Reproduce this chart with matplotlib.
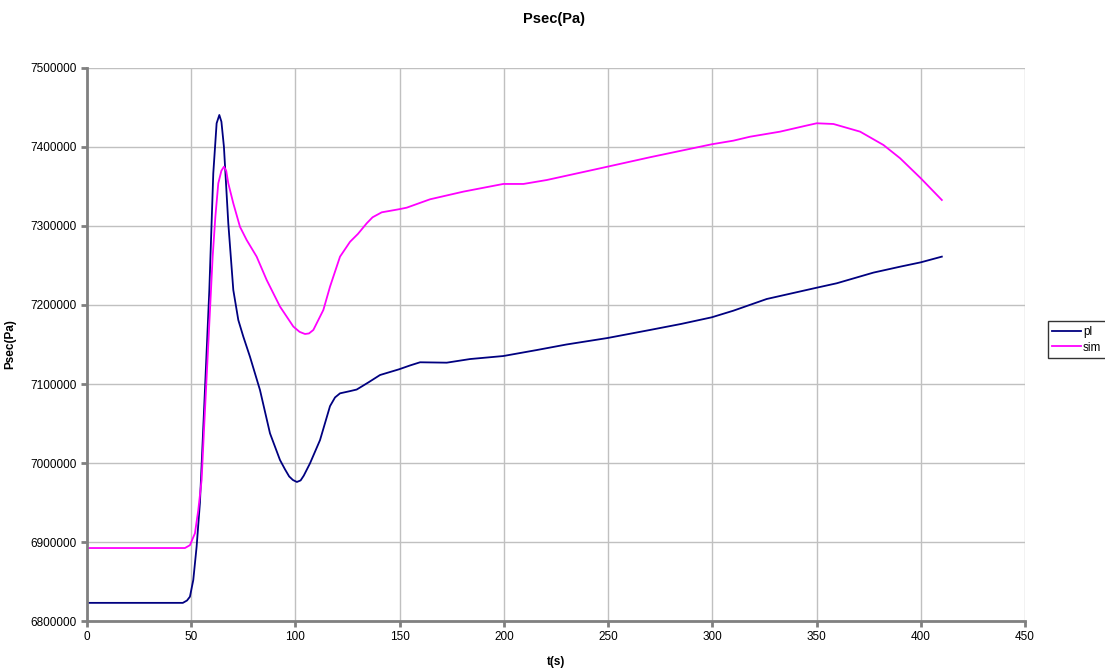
import matplotlib.pyplot as plt
from matplotlib.ticker import MultipleLocator, FuncFormatter

plt.rcParams['font.family'] = ['Liberation Sans', 'DejaVu Sans']

# measured pressure (pl)
t_pl = [0, 46, 48, 49.4, 51, 52.6, 54.2, 56.6, 58.7, 60.6, 62.2, 63.5, 64.5,
        65.7, 67.8, 70.2, 72.6, 75, 78.2, 83, 87.8, 92.6, 95, 97, 98.8,
        100.7, 102.5, 104, 107, 111.8, 116.6, 119, 121.4, 126.2, 129.4, 135,
        140.6, 149.7, 155, 159.8, 172.6, 183.8, 199.7, 215.8, 230, 249.7,
        270.1, 285, 299.7, 310.1, 326.1, 350.1, 359.7, 377.3, 390.1, 400,
        410.1]
p_pl = [6823000, 6823000, 6826000, 6830800, 6851900, 6894000, 6950000,
        7092400, 7219000, 7366700, 7430000, 7440500, 7432000, 7400400,
        7303400, 7219000, 7181000, 7160000, 7134500, 7092400, 7037600,
        7003800, 6992000, 6983000, 6978500, 6976000, 6978000, 6984000,
        6999600, 7029000, 7072000, 7083000, 7088200, 7091000, 7093000,
        7102000, 7111400, 7118600, 7123500, 7127500, 7127000, 7131600,
        7135400, 7143000, 7150000, 7158200, 7168400, 7176000, 7184400,
        7192800, 7207600, 7221900, 7227500, 7241000, 7248500, 7254000,
        7261200]

# simulated pressure (sim)
t_sim = [0, 47, 49.4, 51.8, 53.4, 55, 56.3, 58.7, 60.3, 61.6, 63, 64.5, 65.7,
         66.8, 67.8, 70.2, 73.4, 76.6, 81.4, 86.2, 92.6, 99, 102, 104.6,
         106.5, 108.6, 113.4, 116.6, 118.2, 121.4, 126.2, 130, 134.2, 137,
         141.4, 149.7, 153.4, 164.6, 180.6, 199.7, 209.4, 220.6, 246.2,
         270.1, 299.7, 310.1, 318.1, 332.5, 345, 350.1, 358.1, 370.9, 382.1,
         390.1, 400, 410.1]
p_sim = [6892400, 6892400, 6896000, 6911000, 6940500, 6978500, 7050200,
         7176800, 7261200, 7311800, 7354000, 7370000, 7375000, 7370000,
         7354000, 7328700, 7299000, 7282300, 7261200, 7231700, 7198000,
         7172700, 7166000, 7163300, 7164000, 7168400, 7193700, 7223200,
         7235900, 7261200, 7280000, 7290000, 7303400, 7311000, 7317300,
         7321200, 7323200, 7333800, 7343500, 7353200, 7353200, 7358200,
         7373000, 7387000, 7403400, 7408000, 7413000, 7419400, 7427000,
         7430000, 7429100, 7419400, 7402500, 7385700, 7360400, 7332900]

fig = plt.figure(figsize=(11.05, 6.69), dpi=100)
ax = fig.add_axes([0.0787, 0.0717, 0.8489, 0.8267])

ax.plot(t_pl, p_pl, color='#000080', lw=1.3, label='pl')
ax.plot(t_sim, p_sim, color='#FF00FF', lw=1.3, label='sim')

ax.set_xlim(0, 450)
ax.set_ylim(6800000, 7500000)
ax.xaxis.set_major_locator(MultipleLocator(50))
ax.yaxis.set_major_locator(MultipleLocator(100000))
ax.yaxis.set_major_formatter(FuncFormatter(lambda v, p: f'{v:.0f}'))

ax.grid(True, color='#c0c0c0', lw=1)
ax.set_axisbelow(True)
for s in ('top', 'right'):
    ax.spines[s].set_visible(False)
for s in ('left', 'bottom'):
    ax.spines[s].set_color('#808080')
    ax.spines[s].set_linewidth(2)
ax.tick_params(colors='#808080', labelcolor='black', labelsize=8.5,
               length=4, width=2)

fig.text(0.501, 0.972, 'Psec(Pa)', ha='center', va='center',
         fontsize=10.5, fontweight='bold')
ax.set_xlabel('t(s)', fontsize=8.5, fontweight='bold', labelpad=9)
ax.set_ylabel('Psec(Pa)', fontsize=8.5, fontweight='bold', labelpad=10)

leg = fig.legend(loc='center left', bbox_to_anchor=(0.948, 0.492),
                 fontsize=8.5, frameon=True, fancybox=False,
                 handlelength=2.4, handletextpad=0.2, borderpad=0.4,
                 labelspacing=0.3, borderaxespad=0)
leg.get_frame().set_edgecolor('black')
leg.get_frame().set_linewidth(1)

fig.savefig('out.png', dpi=100)
